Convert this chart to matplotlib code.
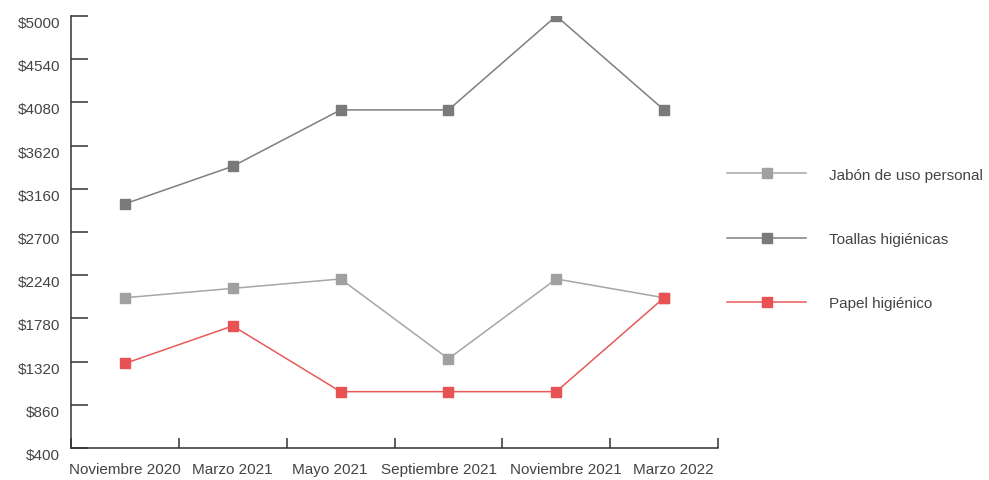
import numpy as np
import matplotlib.pyplot as plt

plt.rcParams['font.family'] = ['Liberation Sans', 'DejaVu Sans']

meses = ["Noviembre 2020", "Marzo 2021", "Mayo 2021", "Septiembre 2021",
         "Noviembre 2021", "Marzo 2022"]
jabon = [2000, 2100, 2200, 1350, 2200, 2000]
toallas = [3000, 3400, 4000, 4000, 5000, 4000]
papel = [1300, 1700, 1000, 1000, 1000, 2000]
yticks = [400, 860, 1320, 1780, 2240, 2700, 3160, 3620, 4080, 4540, 5000]

series = [
    ("Jabón de uso personal", jabon, "#a6a6a6", "#a0a0a0"),
    ("Toallas higiénicas", toallas, "#7f7f7f", "#7a7a7a"),
    ("Papel higiénico", papel, "#e85a5a", "#e85252"),
]

fig = plt.figure(figsize=(9.89, 4.81), dpi=100)
ax = fig.add_axes([71 / 989, 1 - 449 / 481, (718 - 71) / 989, (449 - 17) / 481])

x = np.arange(len(meses))
for nombre, vals, col, mcol in series:
    ax.plot(x, vals, color=col, lw=1.1, marker="s", ms=7.5,
            mfc=mcol, mec=mcol, label=nombre)

ax.set_xlim(-0.5, len(meses) - 0.5)
ax.set_ylim(yticks[0], yticks[-1])
ax.set_yticks(yticks)
ax.set_yticklabels(["$%d" % v for v in yticks], va="top")

# marcas en los limites de cada categoria
ax.set_xticks(np.arange(len(meses) + 1) - 0.5)
ax.set_xticklabels([])

# etiquetas al centro de cada categoria, las largas un poco separadas
desplaz = [0, 0, -8, -6.5, 7, 6.5]
for xi, mes, dx in zip(x, meses, desplaz):
    ax.annotate(mes, xy=(xi, 0), xycoords=("data", "axes fraction"),
                xytext=(dx, -10), textcoords="offset points",
                ha="center", va="top", fontsize=11, color="#444444",
                annotation_clip=False)

for s in ["top", "right"]:
    ax.spines[s].set_visible(False)
for s in ["left", "bottom"]:
    ax.spines[s].set_color("#333333")
    ax.spines[s].set_linewidth(1.1)

ax.tick_params(axis="y", direction="in", length=12, width=1.1, color="#333333",
               labelsize=11, labelcolor="#444444", pad=8)
ax.tick_params(axis="x", which="major", direction="in", length=7.5, width=1.1,
               color="#333333")

fig.legend(loc="center left", bbox_to_anchor=(727 / 989, 1 - 240 / 481),
           frameon=False, fontsize=11, handlelength=5.2, handletextpad=1.5,
           labelspacing=3.3, borderpad=0, borderaxespad=0, labelcolor="#444444")

fig.savefig("out.png", dpi=100)
